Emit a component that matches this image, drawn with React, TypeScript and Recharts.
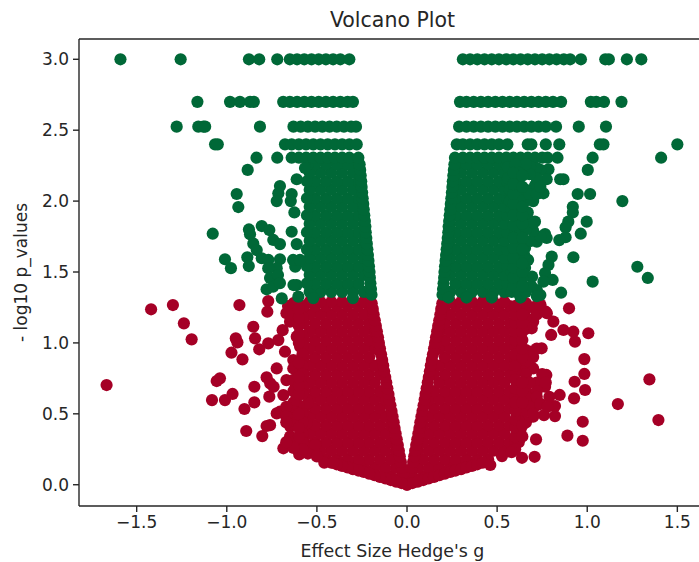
import React from "react";
import { ScatterChart, Scatter, XAxis, YAxis, ReferenceLine } from "recharts";

type Pt = { x: number; y: number };
type Row = [number, number[]];

const xTicks = [-1.5, -1.0, -0.5, 0.0, 0.5, 1.0, 1.5];
const yTicks = [0.0, 0.5, 1.0, 1.5, 2.0, 2.5, 3.0];
const xRange: [number, number] = [-1.82, 1.659];
const yRange: [number, number] = [-0.15, 3.143];

// discrete p-value rows at the top of the plot
const topRows: Row[] = [
  [3.0, [-1.59, -1.256, -0.877, -0.82, -0.72, -0.65, -0.61, -0.57, -0.53, -0.49, -0.45, -0.41, -0.37, -0.32, 0.31, 0.35, 0.39, 0.43, 0.47, 0.51, 0.55, 0.59, 0.63, 0.67, 0.71, 0.75, 0.79, 0.83, 0.87, 0.905, 0.965, 1.1, 1.12, 1.22, 1.3]],
  [2.7, [-1.163, -0.982, -0.927, -0.871, -0.85, -0.687, -0.65, -0.61, -0.57, -0.53, -0.49, -0.45, -0.41, -0.37, -0.33, -0.3, 0.294, 0.33, 0.37, 0.41, 0.45, 0.49, 0.53, 0.57, 0.61, 0.65, 0.69, 0.73, 0.77, 0.81, 0.855, 1.02, 1.05, 1.093, 1.19]],
  [2.525, [-1.278, -1.158, -1.13, -1.12, -0.816, -0.63, -0.59, -0.55, -0.51, -0.47, -0.43, -0.39, -0.35, -0.31, -0.283, 0.289, 0.33, 0.37, 0.41, 0.45, 0.49, 0.53, 0.57, 0.61, 0.65, 0.69, 0.73, 0.77, 0.827, 0.953, 1.104]],
  [2.4, [-1.065, -1.05, -0.677, -0.64, -0.6, -0.56, -0.52, -0.48, -0.44, -0.4, -0.36, -0.32, -0.279, 0.276, 0.31, 0.35, 0.39, 0.43, 0.47, 0.51, 0.557, 0.67, 0.69, 0.77, 0.845, 1.07, 1.09, 1.5]],
  [2.306, [-0.835, -0.72, -0.64, -0.6, -0.56, -0.52, -0.48, -0.44, -0.4, -0.36, -0.32, -0.27, 0.266, 0.31, 0.35, 0.39, 0.43, 0.47, 0.51, 0.55, 0.59, 0.63, 0.67, 0.71, 0.75, 0.78, 0.835, 1.03, 1.41]],
];

// green mass, same columns on both sides of zero
const greenCoreRows: Row[] = [
  [1.36, [0.24, 0.3, 0.36, 0.42, 0.48, 0.54]],
  [1.42, [0.27, 0.33, 0.39, 0.45, 0.51, 0.555]],
  [1.48, [0.24, 0.3, 0.36, 0.42, 0.48, 0.54]],
  [1.54, [0.27, 0.33, 0.39, 0.45, 0.51, 0.555]],
  [1.6, [0.24, 0.3, 0.36, 0.42, 0.48, 0.54]],
  [1.66, [0.27, 0.33, 0.39, 0.45, 0.51, 0.555]],
  [1.72, [0.24, 0.3, 0.36, 0.42, 0.48, 0.54]],
  [1.78, [0.27, 0.33, 0.39, 0.45, 0.51, 0.555]],
  [1.84, [0.24, 0.3, 0.36, 0.42, 0.48, 0.54]],
  [1.9, [0.27, 0.33, 0.39, 0.45, 0.51, 0.555]],
  [1.96, [0.3, 0.36, 0.42, 0.48, 0.54]],
  [2.02, [0.27, 0.33, 0.39, 0.45, 0.51, 0.555]],
  [2.08, [0.3, 0.36, 0.42, 0.48, 0.54]],
  [2.14, [0.27, 0.33, 0.39, 0.45, 0.51, 0.555]],
  [2.2, [0.3, 0.36, 0.42, 0.48, 0.54]],
  [2.26, [0.27, 0.33, 0.39, 0.45, 0.51, 0.55]],
];
const greenEdgeY = [1.34, 1.38, 1.42, 1.46, 1.5, 1.54, 1.58, 1.62, 1.66, 1.7, 1.74, 1.78, 1.82, 1.86, 1.9, 1.94, 1.98, 2.02, 2.06, 2.1, 2.14, 2.18, 2.22, 2.26];
const greenEdgeX = [0.197, 0.2, 0.203, 0.206, 0.208, 0.211, 0.214, 0.217, 0.22, 0.223, 0.226, 0.229, 0.231, 0.234, 0.237, 0.24, 0.243, 0.246, 0.249, 0.252, 0.254, 0.257, 0.26, 0.263];

const greenLeft: [number, number][] = [
  [-0.884, 2.22], [-0.945, 2.05], [-0.936, 1.958], [-0.705, 2.106], [-0.714, 2.055], [-0.723, 2.0], [-0.64, 2.05], [-0.645, 2.0], [-0.625, 1.92], [-0.612, 2.154], [-0.566, 2.233],
  [-1.078, 1.77], [-0.877, 1.8], [-0.871, 1.766], [-0.806, 1.824], [-0.764, 1.796], [-0.742, 1.726], [-0.705, 1.697], [-0.64, 1.784], [-0.612, 1.697], [-0.853, 1.7], [-0.834, 1.655], [-0.806, 1.597], [-0.769, 1.585],
  [-1.01, 1.59], [-0.977, 1.527], [-0.886, 1.604], [-0.878, 1.542], [-0.705, 1.59], [-0.723, 1.527], [-0.77, 1.527], [-0.76, 1.458], [-0.716, 1.479], [-0.779, 1.378], [-0.743, 1.396], [-0.705, 1.422], [-0.695, 1.314],
  [-0.62, 1.537], [-0.632, 1.585], [-0.594, 1.585], [-0.612, 1.408], [-0.603, 1.326], [-0.63, 1.408], [-0.52, 1.316], [-0.3, 1.316],
];
const greenRight: [number, number][] = [
  [1.003, 2.22], [0.868, 2.154], [0.85, 2.154], [0.947, 2.05], [1.016, 2.05], [1.195, 2.0], [0.92, 1.96], [0.92, 1.92], [0.895, 1.855], [0.997, 1.855], [0.88, 1.815], [0.964, 1.77], [0.88, 1.745], [0.845, 1.725],
  [0.766, 1.768], [0.71, 1.855], [0.664, 1.89], [0.775, 1.74], [0.72, 1.714], [0.655, 1.67], [0.803, 1.608], [0.785, 1.55], [0.766, 1.493], [0.923, 1.604], [1.278, 1.537], [1.336, 1.458], [1.03, 1.432],
  [0.808, 1.444], [0.757, 1.432], [0.855, 1.354], [0.74, 1.338], [0.655, 1.53], [0.672, 1.585], [0.694, 1.467], [0.72, 1.373],
  [0.785, 2.224], [0.74, 2.22], [0.775, 2.154], [0.757, 2.055], [0.7, 2.0], [0.655, 2.0], [0.61, 2.08], [0.71, 2.11], [0.72, 2.233], [0.628, 2.233], [0.6, 2.17], [0.683, 2.243], [0.6, 2.03], [0.62, 2.15], [0.72, 2.16],
  [0.23, 1.32], [0.33, 1.32], [0.47, 1.32], [0.63, 1.32],
  [0.58, 1.36], [0.6, 1.42], [0.58, 1.5], [0.6, 1.56], [0.6, 1.64], [0.62, 1.72], [0.6, 1.8], [0.61, 1.86], [0.58, 1.94], [0.57, 2.0], [0.57, 2.08], [0.56, 2.16], [0.56, 2.24], [0.63, 1.44], [0.63, 1.6], [0.64, 1.8],
  [0.62, 1.35], [0.66, 1.36], [0.69, 1.4], [0.72, 1.33], [0.64, 1.45], [0.62, 1.52], [0.62, 1.6], [0.65, 1.62], [0.66, 1.72], [0.69, 1.72], [0.74, 1.75], [0.7, 1.79], [0.66, 1.8], [0.7, 1.85], [0.67, 1.92], [0.61, 1.92], [0.61, 1.97], [0.63, 2.03], [0.66, 2.08], [0.68, 2.05], [0.72, 2.05], [0.74, 2.1], [0.68, 2.19], [0.66, 2.26], [0.6, 2.26], [0.62, 2.2],
  [0.59, 1.4], [0.59, 1.46], [0.59, 1.53], [0.59, 1.6], [0.59, 1.67], [0.59, 1.74], [0.59, 1.83], [0.59, 1.9], [0.59, 1.98], [0.59, 2.05], [0.59, 2.12], [0.59, 2.2], [0.64, 1.4], [0.64, 1.5], [0.64, 1.56], [0.64, 1.66], [0.64, 1.74], [0.64, 1.84], [0.64, 1.9], [0.64, 1.96], [0.64, 2.1], [0.64, 2.18],
];

// red mass, same columns on both sides of zero
const redCoreRows: Row[] = [
  [0.06, [0.03, 0.09, 0.15]],
  [0.12, [0.06, 0.12, 0.18, 0.24, 0.3]],
  [0.18, [0.09, 0.15, 0.21, 0.27, 0.33, 0.39, 0.45]],
  [0.24, [0.06, 0.12, 0.18, 0.24, 0.3, 0.36, 0.42, 0.48, 0.54]],
  [0.3, [0.09, 0.15, 0.21, 0.27, 0.33, 0.39, 0.45, 0.51, 0.57]],
  [0.36, [0.12, 0.18, 0.24, 0.3, 0.36, 0.42, 0.48, 0.54]],
  [0.42, [0.09, 0.15, 0.21, 0.27, 0.33, 0.39, 0.45, 0.51, 0.57]],
  [0.48, [0.12, 0.18, 0.24, 0.3, 0.36, 0.42, 0.48, 0.54]],
  [0.54, [0.15, 0.21, 0.27, 0.33, 0.39, 0.45, 0.51, 0.57]],
  [0.6, [0.12, 0.18, 0.24, 0.3, 0.36, 0.42, 0.48, 0.54]],
  [0.66, [0.15, 0.21, 0.27, 0.33, 0.39, 0.45, 0.51, 0.57]],
  [0.72, [0.18, 0.24, 0.3, 0.36, 0.42, 0.48, 0.54]],
  [0.78, [0.15, 0.21, 0.27, 0.33, 0.39, 0.45, 0.51, 0.57]],
  [0.84, [0.18, 0.24, 0.3, 0.36, 0.42, 0.48, 0.54]],
  [0.9, [0.21, 0.27, 0.33, 0.39, 0.45, 0.51, 0.57]],
  [0.96, [0.18, 0.24, 0.3, 0.36, 0.42, 0.48, 0.54]],
  [1.02, [0.21, 0.27, 0.33, 0.39, 0.45, 0.51, 0.57]],
  [1.08, [0.18, 0.24, 0.3, 0.36, 0.42, 0.48, 0.54]],
  [1.14, [0.21, 0.27, 0.33, 0.39, 0.45, 0.51, 0.57]],
  [1.2, [0.24, 0.3, 0.36, 0.42, 0.48, 0.54]],
  [1.26, [0.21, 0.27, 0.33, 0.39, 0.45, 0.51, 0.57]],
  [1.29, [0.24, 0.3, 0.36, 0.42, 0.48, 0.54]],
];
const redEdgeY = [0.0, 0.08, 0.12, 0.16, 0.2, 0.24, 0.28, 0.32, 0.36, 0.4, 0.44, 0.48, 0.52, 0.56, 0.6, 0.64, 0.68, 0.72, 0.76, 0.8, 0.84, 0.88, 0.92, 0.96, 1.0, 1.04, 1.08, 1.12, 1.16, 1.2, 1.24, 1.28];
const redEdgeX = [0.0, 0.02, 0.028, 0.034, 0.04, 0.045, 0.051, 0.057, 0.063, 0.069, 0.074, 0.08, 0.086, 0.092, 0.098, 0.103, 0.109, 0.115, 0.121, 0.127, 0.132, 0.138, 0.144, 0.15, 0.156, 0.161, 0.167, 0.173, 0.179, 0.185, 0.19, 0.196];
const redFloorX = [0.03, 0.06, 0.09, 0.12, 0.15, 0.18, 0.21, 0.24, 0.27, 0.3, 0.33, 0.36, 0.39, 0.42];
const redFloorY = [0.012, 0.022, 0.033, 0.044, 0.055, 0.067, 0.078, 0.09, 0.1, 0.11, 0.122, 0.133, 0.144, 0.155];

const redLeft: [number, number][] = [
  [-1.42, 1.237], [-1.299, 1.267], [-1.238, 1.138], [-1.195, 1.025], [-1.667, 0.703], [-0.93, 1.267], [-0.77, 1.295], [-0.775, 1.22], [-0.853, 1.114], [-0.95, 1.032], [-0.941, 1.004], [-0.843, 1.032], [-0.82, 0.955], [-0.974, 0.931], [-0.913, 0.884],
  [-0.77, 0.997], [-0.714, 1.02], [-0.69, 1.09], [-0.677, 0.938], [-0.631, 0.879], [-0.631, 0.82], [-0.723, 0.82], [-0.779, 0.757], [-0.759, 0.715], [-0.74, 0.691], [-0.669, 0.738], [-0.593, 0.738], [-0.847, 0.691],
  [-1.038, 0.75], [-1.056, 0.731], [-1.082, 0.597], [-1.01, 0.597], [-0.968, 0.64], [-0.847, 0.581], [-0.902, 0.534], [-0.764, 0.621], [-0.686, 0.632], [-0.705, 0.515], [-0.723, 0.503], [-0.612, 0.621], [-0.647, 0.409], [-0.76, 0.42], [-0.779, 0.414],
  [-0.892, 0.379], [-0.803, 0.343], [-0.686, 0.257], [-0.598, 0.214], [-0.51, 0.28], [-0.459, 0.155], [-0.409, 0.155], [-0.649, 0.339], [-0.577, 0.303], [-0.669, 1.21], [-0.649, 1.15], [-0.612, 1.044], [-0.593, 0.973], [-0.631, 0.505], [-0.556, 0.434], [-0.55, 0.576], [-0.618, 0.691],
  [-0.66, 1.26], [-0.62, 1.2], [-0.6, 1.12], [-0.6, 1.27], [-0.59, 0.8], [-0.6, 0.56], [-0.62, 0.45], [-0.58, 0.36], [-0.6, 0.28], [-0.55, 0.22], [-0.5, 0.2],
  [-0.58, 1.25], [-0.58, 1.18], [-0.58, 1.05], [-0.58, 0.98], [-0.58, 0.92], [-0.58, 0.84], [-0.58, 0.78], [-0.58, 0.7], [-0.58, 0.64], [-0.58, 0.5], [-0.58, 0.44], [-0.58, 0.3], [-0.58, 0.25],
  [-0.63, 1.28], [-0.63, 1.2], [-0.63, 0.74], [-0.63, 0.66], [-0.63, 0.58], [-0.63, 0.52], [-0.63, 0.47], [-0.63, 0.42], [-0.63, 0.3], [-0.63, 0.26], [-0.67, 0.55], [-0.67, 0.48], [-0.67, 0.44], [-0.67, 0.3],
  [-0.6, 0.34], [-0.6, 0.4], [-0.6, 0.5], [-0.6, 0.64], [-0.6, 0.7], [-0.6, 0.76], [-0.6, 0.86], [-0.6, 1.0], [-0.6, 1.06], [-0.6, 1.18], [-0.6, 1.24],
];
const redRight: [number, number][] = [
  [0.899, 1.244], [1.006, 1.068], [0.932, 1.009], [0.923, 1.079], [0.868, 1.091], [0.8, 1.056], [0.812, 1.15], [0.776, 1.209], [0.7, 1.15], [0.692, 1.103], [0.984, 0.886], [0.984, 0.781], [0.93, 0.726], [0.988, 0.668], [0.927, 0.609],
  [1.345, 0.743], [1.17, 0.569], [1.395, 0.456], [0.975, 0.444], [0.89, 0.346], [0.975, 0.31], [0.716, 0.32], [0.708, 0.197], [0.638, 0.19], [0.527, 0.202], [0.462, 0.139], [0.747, 0.962], [0.692, 0.938], [0.655, 0.856], [0.7, 0.82],
  [0.773, 0.774], [0.766, 0.691], [0.7, 0.621], [0.847, 0.633], [0.821, 0.555], [0.821, 0.484], [0.76, 0.491], [0.7, 0.48],
  [0.62, 1.27], [0.66, 1.24], [0.63, 1.18], [0.66, 1.12], [0.61, 1.05], [0.72, 1.26], [0.74, 1.26], [0.6, 0.62], [0.63, 0.55], [0.63, 0.47], [0.63, 0.39], [0.6, 0.3], [0.59, 0.24], [0.62, 0.7], [0.66, 0.66], [0.66, 0.58], [0.72, 0.56], [0.66, 0.44],
  [0.66, 0.95], [0.72, 0.96], [0.7, 0.9], [0.66, 0.87], [0.64, 0.8], [0.66, 0.78], [0.72, 0.72], [0.75, 0.78], [0.77, 0.72], [0.72, 0.66], [0.68, 0.72], [0.66, 0.62], [0.72, 0.62], [0.68, 0.55], [0.74, 0.57], [0.79, 0.62], [0.78, 0.55], [0.64, 0.5], [0.7, 0.5],
  [0.66, 1.28], [0.7, 1.25], [0.72, 1.2], [0.66, 1.18], [0.66, 1.1], [0.62, 1.1], [0.62, 1.03], [0.77, 1.22], [0.74, 1.27], [0.6, 0.97], [0.6, 0.88], [0.6, 0.8], [0.62, 0.45], [0.62, 0.38], [0.62, 0.3], [0.6, 0.25], [0.58, 0.23],
  [0.6, 0.34], [0.6, 0.4], [0.6, 0.46], [0.6, 0.52], [0.6, 0.58], [0.6, 0.68], [0.6, 0.74], [0.6, 0.84], [0.6, 0.92], [0.6, 1.02], [0.6, 1.08], [0.6, 1.14], [0.6, 1.2], [0.6, 1.26], [0.64, 0.34], [0.64, 0.42], [0.64, 0.58], [0.64, 0.66], [0.64, 0.72], [0.64, 0.9], [0.64, 0.96], [0.64, 1.02], [0.64, 1.08], [0.64, 1.14], [0.64, 1.2],
];

const fromRows = (rows: Row[]): Pt[] => rows.flatMap(([y, xs]) => xs.map((x) => ({ x, y })));
const both = (pts: Pt[]): Pt[] => pts.flatMap((p) => [p, { x: -p.x, y: p.y }]);
const zipped = (xs: number[], ys: number[]): Pt[] => xs.map((x, i) => ({ x, y: ys[i] }));
const fromPairs = (pairs: [number, number][]): Pt[] => pairs.map(([x, y]) => ({ x, y }));

const redData = [
  ...both(fromRows(redCoreRows)),
  ...both(zipped(redEdgeX, redEdgeY)),
  ...both(zipped(redFloorX, redFloorY)),
  ...fromPairs(redLeft),
  ...fromPairs(redRight),
];
const greenData = [
  ...both(fromRows(greenCoreRows)),
  ...both(zipped(greenEdgeX, greenEdgeY)),
  ...fromRows(topRows),
  ...fromPairs(greenLeft),
  ...fromPairs(greenRight),
];

const font = "'DejaVu Sans', sans-serif";
const tickStyle = { fill: "#262626", fontSize: 17, fontFamily: font };
const minusSign = (v: number) => v.toFixed(1).replace("-", "\u2212");

const Dot = (props: any) => <circle cx={props.cx} cy={props.cy} r={6.1} fill={props.fill} />;

export default function App() {
  return (
    <div style={{ position: "fixed", left: 0, top: 0, width: 699, height: 562, overflow: "hidden", background: "#fff" }}>
      <ScatterChart width={710} height={562} margin={{ top: 39, right: 4, bottom: 0, left: 0 }}>
        <XAxis
          dataKey="x"
          type="number"
          domain={xRange}
          ticks={xTicks}
          interval={0}
          height={56}
          tickSize={6}
          tickMargin={4}
          tick={tickStyle}
          tickFormatter={minusSign}
          stroke="#262626"
          strokeWidth={1.4}
          allowDataOverflow
          label={{ value: "Effect Size Hedge's g", position: "insideBottom", offset: 5, style: { ...tickStyle, fontSize: 17.4, textAnchor: "middle" } }}
        />
        <YAxis
          dataKey="y"
          type="number"
          domain={yRange}
          ticks={yTicks}
          interval={0}
          width={79}
          tickSize={6}
          tickMargin={4}
          tick={tickStyle}
          tickFormatter={minusSign}
          stroke="#262626"
          strokeWidth={1.4}
          allowDataOverflow
          label={{ value: "- log10 p_values", angle: -90, position: "insideLeft", offset: 21, style: { ...tickStyle, textAnchor: "middle" } }}
        />
        <ReferenceLine y={3.143} stroke="#262626" strokeWidth={1.4} />
        <Scatter data={redData} fill="#a50026" shape={Dot} isAnimationActive={false} />
        <Scatter data={greenData} fill="#006837" shape={Dot} isAnimationActive={false} />
        <text x={392.5} y={27} textAnchor="middle" fill="#262626" style={{ fontFamily: font, fontSize: 20.5 }}>
          Volcano Plot
        </text>
      </ScatterChart>
    </div>
  );
}
